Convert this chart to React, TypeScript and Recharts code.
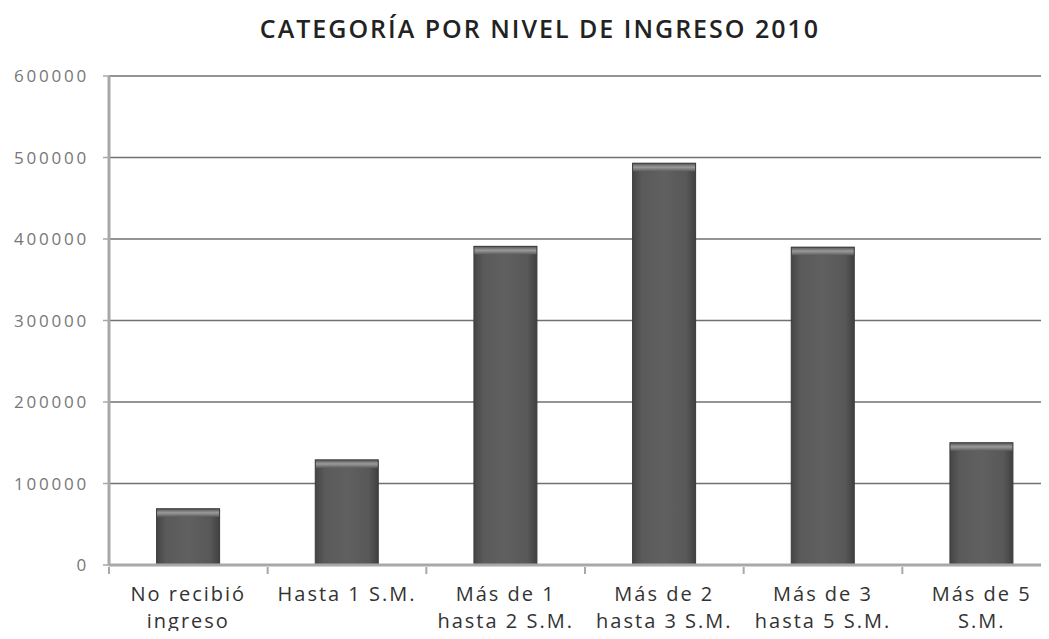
import React from 'react'
import { BarChart, Bar, XAxis, YAxis, CartesianGrid } from 'recharts'

// Categoría por nivel de ingreso 2010
const CATEGORIES = [
  'No recibió\ningreso',
  'Hasta 1 S.M.',
  'Más de 1\nhasta 2 S.M.',
  'Más de 2\nhasta 3 S.M.',
  'Más de 3\nhasta 5 S.M.',
  'Más de 5\nS.M.',
]
const VALUES = [69000, 129000, 391000, 493000, 390000, 150000]
const Y_TICKS = [0, 100000, 200000, 300000, 400000, 500000, 600000]

const data = CATEGORIES.map((c, i) => ({ cat: c, value: VALUES[i] }))

const FONT = '"Open Sans", Lato, sans-serif'

// etiqueta en dos líneas + marca de separación entre categorías
function CatTick(props: any) {
  const { x, y, payload, index } = props
  const lines = String(payload.value).split('\n')
  const half = payload.offset ?? 0
  const axisY = y - 6
  return (
    <g>
      {half > 0 && (
        <line x1={x - half} x2={x - half} y1={axisY} y2={axisY + 7} stroke="#a8a8a8" strokeWidth={2} />
      )}
      {half > 0 && index === CATEGORIES.length - 1 && (
        <line x1={x + half} x2={x + half} y1={axisY} y2={axisY + 7} stroke="#a8a8a8" strokeWidth={2} />
      )}
      <text
        x={x}
        y={y}
        textAnchor="middle"
        fill="#333"
        fontSize={20}
        letterSpacing={2}
        fontFamily={FONT}
      >
        {lines.map((l, i) => (
          <tspan key={i} x={x} dy={i === 0 ? 28 : 27}>
            {l}
          </tspan>
        ))}
      </text>
    </g>
  )
}

function BevelBar(props: any) {
  const { x, y, width, height } = props
  if (!height || height <= 0) return null
  return (
    <g>
      <rect x={x} y={y} width={width} height={height} fill="url(#barH)" />
      <rect x={x} y={y} width={width} height={Math.min(8, height)} fill="url(#barTop)" />
      <rect x={x} y={y} width={width} height={height} fill="none" stroke="#3a3a3a" strokeWidth={1} />
    </g>
  )
}

export default function App() {
  return (
    <div
      style={{
        position: 'relative',
        width: 1049,
        height: 639,
        margin: -8,
        overflow: 'hidden',
        background: '#fff',
      }}
    >
      <div
        style={{
          position: 'absolute',
          top: 11,
          left: 0,
          width: 1080,
          textAlign: 'center',
          fontFamily: FONT,
          fontWeight: 600,
          fontSize: 25,
          letterSpacing: 2,
          color: '#222',
        }}
      >
        CATEGORÍA POR NIVEL DE INGRESO 2010
      </div>
      <BarChart
        width={1061}
        height={639}
        data={data}
        margin={{ top: 76, right: 0, left: 0, bottom: 0 }}
        barCategoryGap="30%"
      >
        <defs>
          <linearGradient id="barH" x1="0" y1="0" x2="1" y2="0">
            <stop offset="0%" stopColor="#454545" />
            <stop offset="15%" stopColor="#5a5a5a" />
            <stop offset="50%" stopColor="#606060" />
            <stop offset="85%" stopColor="#585858" />
            <stop offset="100%" stopColor="#404040" />
          </linearGradient>
          <linearGradient id="barTop" x1="0" y1="0" x2="0" y2="1">
            <stop offset="0%" stopColor="#555" />
            <stop offset="50%" stopColor="#9a9a9a" />
            <stop offset="100%" stopColor="#5e5e5e" />
          </linearGradient>
        </defs>
        <CartesianGrid vertical={false} stroke="#707070" strokeWidth={1.5} />
        <XAxis
          dataKey="cat"
          height={74}
          interval={0}
          tick={<CatTick />}
          tickLine={false}
          axisLine={{ stroke: '#a8a8a8', strokeWidth: 3 }}
        />
        <YAxis
          width={109}
          domain={[0, 600000]}
          ticks={Y_TICKS}
          tickSize={6}
          tickMargin={14}
          tick={{ fontSize: 17, fill: '#777', fontFamily: FONT, letterSpacing: 2.8 }}
          axisLine={{ stroke: '#a8a8a8', strokeWidth: 3 }}
          tickLine={{ stroke: '#a8a8a8', strokeWidth: 1.5 }}
        />
        <Bar dataKey="value" shape={<BevelBar />} isAnimationActive={false} />
      </BarChart>
    </div>
  )
}
